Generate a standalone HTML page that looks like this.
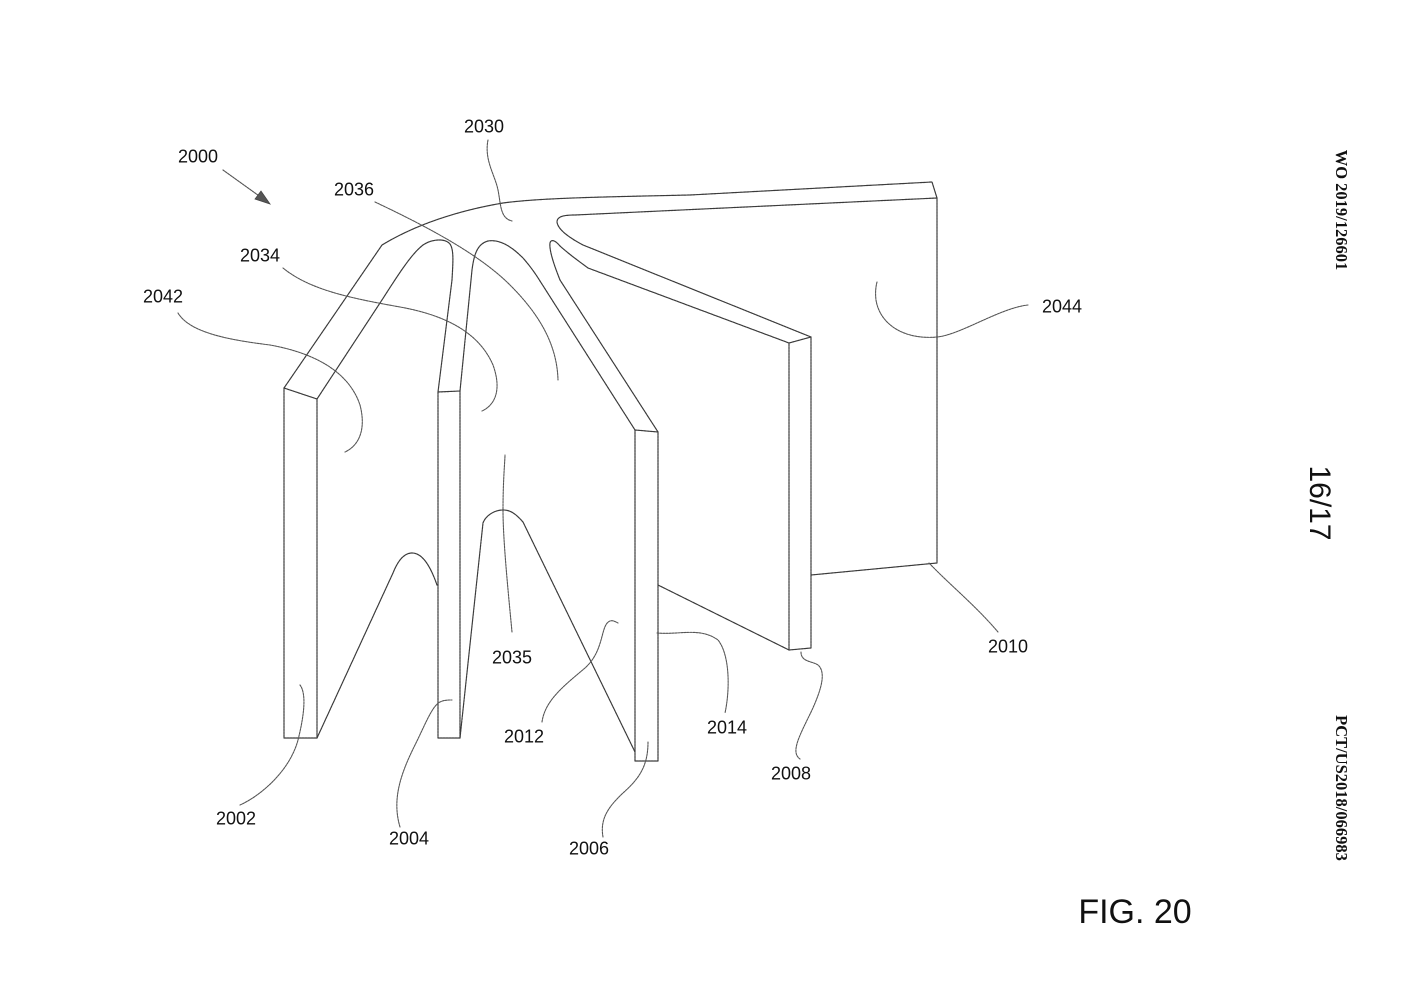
<!DOCTYPE html>
<html>
<head>
<meta charset="utf-8">
<style>
  html, body { margin: 0; padding: 0; background: #ffffff; }
  body { width: 1420px; height: 1004px; overflow: hidden; }
  svg { display: block; }
  .lbl { font-family: "Liberation Sans", sans-serif; font-size: 18px; fill: #111; }
</style>
</head>
<body>
<svg width="1420" height="1004" viewBox="0 0 1420 1004" xmlns="http://www.w3.org/2000/svg">
  <rect x="0" y="0" width="1420" height="1004" fill="#ffffff"/>

  <!-- Main drawing lines -->
  <g fill="none" stroke="#3a3a3a" stroke-width="1.2" stroke-linejoin="round" stroke-linecap="round" stroke-dasharray="2.2 0.8">
    <!-- panel front faces -->
    <path d="M284 388 L317 399 L317 738 L284 738 Z"/>
    <path d="M438 392 L460 391 L460 738 L438 738 Z"/>
    <path d="M635 430 L658 432 L658 761 L635 761 Z"/>
    <path d="M789 343 L811 337 L811 648 L789 650 Z"/>

    <!-- outer top edge and back panel 2010 -->
    <path d="M284 388 L382 245 C410 228 450 212 503 203 C540 198 600 197 690 195 L932 182 L937 198 L937 563 L811 575"/>

    <!-- hairpin A: 2002 inner edge / 2004 left edge -->
    <path d="M317 399 L380 303 C395 280 410 255 423 245 C432 239 445 238 450 244 C454 250 453 262 452 280 L438 392"/>

    <!-- hairpin B: 2004 right edge / 2006 left edge -->
    <path d="M460 391 L472 270 C474 255 477 244 488 241 C500 239 512 247 523 258 C530 266 535 273 540 281 L635 430"/>

    <!-- hairpin C: 2006 right edge / 2008 left edge -->
    <path d="M658 432 L560 280 C554 265 549 250 550 243 C551 239 555 240 560 246 C570 255 580 262 588 268 L789 343"/>

    <!-- hairpin D: 2008 right edge / back inner top -->
    <path d="M811 337 L583 245 C570 238 558 230 557 222 C557 216 565 215 575 215 L937 198"/>

    <!-- bottom hairpins -->
    <path d="M317 738 L393 573 C397 563 403 553 412 553 C422 553 430 565 437 585"/>
    <path d="M460 738 L483 523 C486 515 495 510 503 510 C510 510 515 513 523 522 L635 752"/>

    <!-- 2014 bottom edge -->
    <path d="M658 585 L789 650"/>
  </g>

  <!-- Leader lines -->
  <g fill="none" stroke="#555" stroke-width="1.1" stroke-linecap="round" stroke-dasharray="2 1">
    <path d="M488 140 C484 160 495 175 498 190 C501 205 500 218 512 221"/>
    <path d="M375 202 C430 228 480 255 510 285 C540 315 557 345 558 380"/>
    <path d="M283 268 C310 290 350 298 400 307 C450 316 480 335 493 365 C502 390 495 405 482 411"/>
    <path d="M178 313 C190 333 230 340 270 345 C320 354 350 375 360 405 C366 428 360 445 345 452"/>
    <path d="M1028 305 C1000 308 960 335 937 337 C905 340 880 325 876 300 C875 292 876 286 877 282"/>
    <path d="M929 563 C950 585 975 605 998 632"/>
    <path d="M801 652 C801 662 812 661 818 665 C826 672 822 688 812 710 C800 735 790 752 800 759"/>
    <path d="M657 633 C680 635 700 627 718 640 C730 655 730 690 725 713"/>
    <path d="M542 722 C545 700 565 685 585 668 C605 650 600 625 610 621 C613 620 616 622 618 623"/>
    <path d="M512 632 C508 590 503 540 503 510 C503 480 505 460 505 455"/>
    <path d="M240 805 C262 795 290 770 298 740 C305 712 306 693 300 685"/>
    <path d="M400 827 C392 800 400 775 415 745 C425 725 432 706 440 702 C444 700 448 700 452 700"/>
    <path d="M603 837 C600 820 607 808 623 793 C640 778 648 765 648 742"/>
    <!-- 2000 arrow shaft -->
    <path d="M223 170 L262 198"/>
  </g>
  <!-- 2000 arrowhead -->
  <polygon points="270,204 255,199 261,191" fill="#555" stroke="#444" stroke-width="0.8"/>

  <!-- Reference labels -->
  <g class="lbl" text-anchor="middle">
    <text x="484" y="132.5">2030</text>
    <text x="198" y="162.5">2000</text>
    <text x="354" y="195.5">2036</text>
    <text x="260" y="261.5">2034</text>
    <text x="163" y="302.5">2042</text>
    <text x="1062" y="312.5">2044</text>
    <text x="1008" y="652.5">2010</text>
    <text x="512" y="663.5">2035</text>
    <text x="727" y="733.5">2014</text>
    <text x="524" y="742.5">2012</text>
    <text x="791" y="779.5">2008</text>
    <text x="236" y="824.5">2002</text>
    <text x="409" y="844.5">2004</text>
    <text x="589" y="854.5">2006</text>
  </g>

  <text x="1135" y="923" text-anchor="middle" font-family="Liberation Sans, sans-serif" font-size="34" fill="#111">FIG. 20</text>

  <!-- Vertical page header text -->
  <text x="1342" y="216" text-anchor="middle" transform="rotate(90 1342 210)" font-family="Liberation Serif, serif" font-weight="bold" font-size="16.5" fill="#111">WO 2019/126601</text>
  <text x="1321" y="514" text-anchor="middle" transform="rotate(90 1321 503)" font-family="Liberation Sans, sans-serif" font-size="30" fill="#111">16/17</text>
  <text x="1342" y="794" text-anchor="middle" transform="rotate(90 1342 788)" font-family="Liberation Serif, serif" font-weight="bold" font-size="16.5" fill="#111">PCT/US2018/066983</text>
</svg>
</body>
</html>
